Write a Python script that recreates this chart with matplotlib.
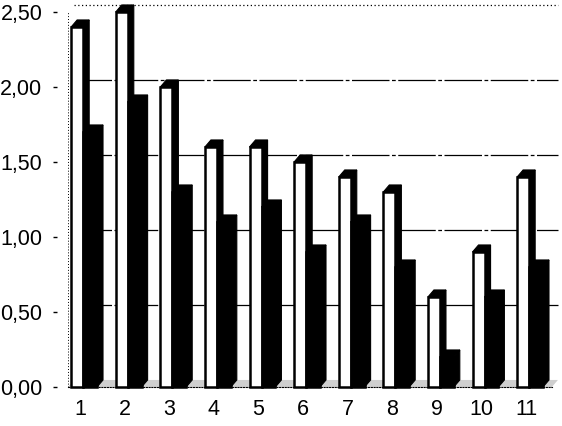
import matplotlib
matplotlib.use("Agg")
import matplotlib.pyplot as plt
from matplotlib.patches import Polygon, Rectangle

categories = ["1", "2", "3", "4", "5", "6", "7", "8", "9", "10", "11"]
white_vals = [2.40, 2.50, 2.00, 1.60, 1.60, 1.50, 1.40, 1.30, 0.60, 0.90, 1.40]
black_vals = [1.70, 1.90, 1.30, 1.10, 1.20, 0.90, 1.10, 0.80, 0.20, 0.60, 0.80]
yticks = [0.0, 0.5, 1.0, 1.5, 2.0, 2.5]
ytick_labels = ["0,00", "0,50", "1,00", "1,50", "2,00", "2,50"]

plt.rcParams['font.family'] = ['Liberation Sans', 'DejaVu Sans']

fig = plt.figure(figsize=(5.62, 4.26), dpi=100)
ax = fig.add_axes([0.121, 0.0915, 0.861, 0.8803])

XLO, XHI = 0.73, 11.58
ax.set_xlim(XLO, XHI)
ax.set_ylim(0, 2.5)

DX, DY = 0.135, 0.047      # 3D depth offset
W_FRONT = 0.27             # white bar front width
B_FRONT = 0.31             # black bar front width
W_OFF = -0.20              # white bar left offset from category centre

xs = list(range(1, len(categories) + 1))

# floor
ax.add_patch(Polygon([(XLO, 0), (XHI, 0), (XHI + DX, DY), (XLO + DX, DY)],
                     closed=True, facecolor='#cfcfcf', edgecolor='none',
                     zorder=1, clip_on=False))

# back-wall gridlines
for v in yticks[1:]:
    ls = (0, (1, 2)) if v == 2.5 else (0, (30, 2, 3, 2))
    ax.plot([XLO + DX, XHI + DX], [v + DY, v + DY], color='black', lw=0.9,
            ls=ls, zorder=1.5, clip_on=False)

# left wall (dotted axis line)
ax.plot([XLO, XLO], [0, 2.5], color='black', lw=0.7, ls=(0, (1, 2)),
        zorder=1.5, clip_on=False)


def bar3d(x0, w, v, front_fc, z):
    # side face
    ax.add_patch(Polygon([(x0 + w, 0), (x0 + w + DX, DY), (x0 + w + DX, v + DY), (x0 + w, v)],
                         closed=True, facecolor='black', edgecolor='black', lw=0.8,
                         zorder=z, clip_on=False))
    # top face
    ax.add_patch(Polygon([(x0, v), (x0 + DX, v + DY), (x0 + w + DX, v + DY), (x0 + w, v)],
                         closed=True, facecolor='black', edgecolor='black', lw=0.8,
                         zorder=z, clip_on=False))
    # front face
    ax.add_patch(Rectangle((x0, 0), w, v, facecolor=front_fc, edgecolor='black',
                           lw=1.8, zorder=z + 0.1, clip_on=False))


for i, x in enumerate(xs):
    xw = x + W_OFF
    bar3d(xw, W_FRONT, white_vals[i], 'white', 3 + i * 0.01)
    bar3d(xw + W_FRONT, B_FRONT, black_vals[i], 'black', 3.5 + i * 0.01)

ax.set_xticks(xs)
ax.set_xticklabels(categories)
ax.set_yticks(yticks)
ax.set_yticklabels(ytick_labels)

for s in ['top', 'right']:
    ax.spines[s].set_visible(False)
ax.spines['left'].set_position(('outward', 7.9))
ax.spines['left'].set_visible(False)
ax.spines['bottom'].set_linestyle((0, (1, 1.5)))
ax.spines['bottom'].set_linewidth(0.8)
ax.spines['bottom'].set_zorder(2)

ax.tick_params(axis='y', direction='out', length=3, width=1, pad=7.5, labelsize=15.5)
ax.tick_params(axis='x', length=0, pad=8.5, labelsize=15.5)

fig.savefig("out.png", dpi=100)
